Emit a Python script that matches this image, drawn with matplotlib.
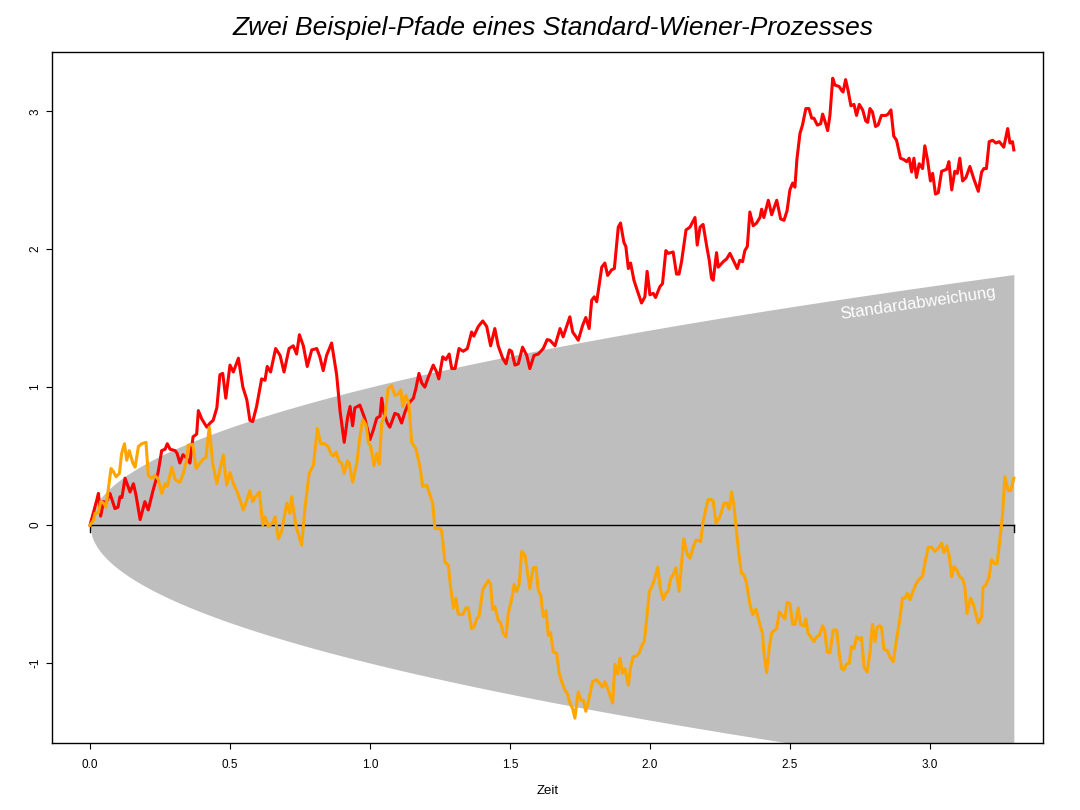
import numpy as np
import matplotlib
matplotlib.use("Agg")
import matplotlib.pyplot as plt

plt.rcParams['font.family'] = ['Liberation Sans', 'DejaVu Sans']

TITLE = "Zwei Beispiel-Pfade eines Standard-Wiener-Prozesses"
XLABEL = "Zeit"
BAND_LABEL = "Standardabweichung"
T_END = 3.3
X_TICKS = [0.0, 0.5, 1.0, 1.5, 2.0, 2.5, 3.0]
X_TICK_LABELS = ["0.0", "0.5", "1.0", "1.5", "2.0", "2.5", "3.0"]
Y_TICKS = [-1, 0, 1, 2, 3]
Y_TICK_LABELS = ["-1", "0", "1", "2", "3"]

red_t = [0, 0.012, 0.024, 0.030, 0.038, 0.048, 0.057, 0.071, 0.089, 0.100, 0.107, 0.114, 0.125, 0.143, 0.155,
         0.164, 0.179, 0.196, 0.208, 0.225, 0.243, 0.256, 0.268, 0.276, 0.286, 0.304, 0.311, 0.321, 0.332, 0.343,
         0.357, 0.368, 0.381, 0.387, 0.399, 0.417, 0.429, 0.440, 0.453, 0.464, 0.474, 0.485, 0.500, 0.512, 0.530,
         0.546, 0.560, 0.571, 0.581, 0.595, 0.613, 0.625, 0.633, 0.645, 0.663, 0.679, 0.693, 0.711, 0.726, 0.738,
         0.748, 0.762, 0.776, 0.792, 0.810, 0.821, 0.833, 0.845, 0.863, 0.881, 0.893, 0.908, 0.920, 0.929, 0.938,
         0.946, 0.964, 0.982, 1.000, 1.012, 1.024, 1.036, 1.042, 1.050, 1.062, 1.071, 1.089, 1.101, 1.113, 1.125,
         1.137, 1.155, 1.164, 1.175, 1.185, 1.196, 1.208, 1.226, 1.238, 1.246, 1.260, 1.271, 1.283, 1.292, 1.304,
         1.318, 1.333, 1.348, 1.363, 1.371, 1.387, 1.403, 1.417, 1.431, 1.446, 1.458, 1.474, 1.486, 1.498, 1.506,
         1.518, 1.530, 1.545, 1.560, 1.571, 1.586, 1.601, 1.619, 1.633, 1.643, 1.661, 1.679, 1.690, 1.714, 1.724,
         1.736, 1.744, 1.760, 1.771, 1.783, 1.792, 1.801, 1.810, 1.828, 1.839, 1.849, 1.863, 1.873, 1.887, 1.895,
         1.907, 1.914, 1.923, 1.931, 1.943, 1.955, 1.970, 1.982, 1.990, 2.000, 2.012, 2.020, 2.036, 2.045, 2.057,
         2.065, 2.083, 2.095, 2.104, 2.113, 2.129, 2.143, 2.161, 2.169, 2.179, 2.190, 2.203, 2.212, 2.220, 2.226,
         2.238, 2.244, 2.262, 2.274, 2.286, 2.298, 2.312, 2.321, 2.331, 2.339, 2.348, 2.357, 2.369, 2.381, 2.393,
         2.399, 2.407, 2.423, 2.435, 2.453, 2.467, 2.479, 2.490, 2.500, 2.510, 2.518, 2.525, 2.536, 2.545, 2.557,
         2.568, 2.578, 2.586, 2.598, 2.610, 2.617, 2.625, 2.635, 2.643, 2.653, 2.661, 2.676, 2.685, 2.690, 2.699,
         2.708, 2.718, 2.729, 2.738, 2.748, 2.760, 2.771, 2.778, 2.786, 2.795, 2.806, 2.815, 2.827, 2.843, 2.851,
         2.861, 2.871, 2.881, 2.895, 2.907, 2.917, 2.926, 2.935, 2.943, 2.952, 2.962, 2.974, 2.982, 2.992, 3.002,
         3.010, 3.020, 3.030, 3.042, 3.060, 3.068, 3.078, 3.089, 3.098, 3.107, 3.117, 3.129, 3.143, 3.157, 3.173,
         3.185, 3.193, 3.202, 3.212, 3.224, 3.236, 3.248, 3.264, 3.278, 3.286, 3.295, 3.300]
red_w = [0, 0.09, 0.18, 0.23, 0.065, 0.17, 0.16, 0.23, 0.12, 0.13, 0.205, 0.2, 0.34, 0.24, 0.3,
         0.22, 0.04, 0.17, 0.11, 0.25, 0.38, 0.54, 0.55, 0.59, 0.55, 0.54, 0.52, 0.45, 0.51, 0.49,
         0.45, 0.64, 0.66, 0.83, 0.77, 0.71, 0.74, 0.76, 0.85, 1.09, 1.10, 0.92, 1.16, 1.11, 1.21,
         1.0, 0.91, 0.76, 0.75, 0.86, 1.06, 1.05, 1.15, 1.11, 1.28, 1.23, 1.11, 1.28, 1.30, 1.24,
         1.38, 1.30, 1.15, 1.27, 1.28, 1.22, 1.12, 1.23, 1.32, 1.09, 0.83, 0.60, 0.78, 0.86, 0.72,
         0.85, 0.87, 0.77, 0.62, 0.69, 0.775, 0.79, 0.92, 0.81, 0.74, 0.71, 0.81, 0.80, 0.74, 0.82,
         0.88, 0.92, 0.99, 1.10, 1.03, 1.0, 1.07, 1.16, 1.11, 1.06, 1.22, 1.20, 1.24, 1.135, 1.135,
         1.28, 1.26, 1.28, 1.40, 1.37, 1.44, 1.48, 1.44, 1.30, 1.425, 1.30, 1.21, 1.17, 1.27, 1.26,
         1.16, 1.17, 1.29, 1.23, 1.135, 1.23, 1.24, 1.28, 1.345, 1.34, 1.30, 1.425, 1.365, 1.51, 1.40,
         1.365, 1.34, 1.45, 1.505, 1.425, 1.63, 1.655, 1.62, 1.87, 1.90, 1.81, 1.85, 1.86, 2.16, 2.19,
         2.05, 2.02, 1.86, 1.90, 1.775, 1.70, 1.61, 1.655, 1.84, 1.67, 1.68, 1.65, 1.73, 1.75, 1.99,
         1.97, 1.98, 1.82, 1.82, 1.91, 2.14, 2.16, 2.23, 2.03, 2.16, 2.18, 2.02, 1.92, 1.79, 1.775,
         1.975, 1.87, 1.91, 1.93, 1.97, 1.92, 1.86, 1.92, 1.91, 1.99, 2.02, 2.27, 2.17, 2.19, 2.23,
         2.29, 2.23, 2.355, 2.25, 2.355, 2.22, 2.21, 2.28, 2.43, 2.48, 2.45, 2.65, 2.84, 2.90, 3.02,
         3.02, 2.95, 2.95, 2.90, 2.91, 2.98, 2.93, 2.86, 2.97, 3.24, 3.19, 3.18, 3.15, 3.14, 3.23,
         3.15, 3.04, 3.05, 2.97, 3.05, 3.01, 2.93, 2.92, 3.02, 2.995, 2.89, 2.90, 2.97, 2.97, 2.98,
         3.01, 2.82, 2.79, 2.66, 2.65, 2.635, 2.66, 2.56, 2.66, 2.52, 2.62, 2.585, 2.75, 2.645, 2.495,
         2.55, 2.40, 2.41, 2.565, 2.58, 2.635, 2.43, 2.565, 2.55, 2.66, 2.495, 2.52, 2.60, 2.51, 2.42,
         2.56, 2.585, 2.585, 2.78, 2.79, 2.77, 2.78, 2.74, 2.875, 2.77, 2.78, 2.72]

orange_t = [0, 0.012, 0.018, 0.030, 0.038, 0.048, 0.057, 0.075, 0.083, 0.093, 0.105, 0.113, 0.123, 0.131, 0.140,
            0.153, 0.161, 0.173, 0.185, 0.200, 0.208, 0.220, 0.232, 0.244, 0.256, 0.268, 0.276, 0.292, 0.304, 0.321,
            0.333, 0.345, 0.351, 0.367, 0.379, 0.393, 0.405, 0.414, 0.426, 0.438, 0.453, 0.464, 0.476, 0.488, 0.500,
            0.512, 0.526, 0.548, 0.560, 0.571, 0.581, 0.589, 0.605, 0.617, 0.625, 0.637, 0.653, 0.661, 0.673, 0.685,
            0.703, 0.714, 0.720, 0.736, 0.756, 0.768, 0.783, 0.798, 0.812, 0.824, 0.838, 0.851, 0.860, 0.869, 0.879,
            0.890, 0.899, 0.908, 0.919, 0.926, 0.938, 0.953, 0.964, 0.974, 0.986, 0.994, 1.003, 1.014, 1.024, 1.033,
            1.042, 1.054, 1.065, 1.078, 1.089, 1.101, 1.110, 1.117, 1.128, 1.139, 1.149, 1.164, 1.179, 1.188, 1.203,
            1.214, 1.224, 1.232, 1.250, 1.256, 1.268, 1.280, 1.288, 1.298, 1.307, 1.315, 1.331, 1.343, 1.351, 1.363,
            1.371, 1.381, 1.390, 1.403, 1.411, 1.423, 1.431, 1.438, 1.446, 1.458, 1.467, 1.476, 1.486, 1.494, 1.506,
            1.515, 1.524, 1.533, 1.542, 1.554, 1.571, 1.583, 1.593, 1.601, 1.610, 1.619, 1.629, 1.637, 1.645, 1.655,
            1.667, 1.676, 1.685, 1.696, 1.705, 1.714, 1.724, 1.732, 1.744, 1.754, 1.762, 1.771, 1.783, 1.795, 1.810,
            1.821, 1.831, 1.839, 1.851, 1.867, 1.875, 1.885, 1.893, 1.902, 1.911, 1.923, 1.931, 1.940, 1.952, 1.962,
            1.970, 1.980, 1.988, 1.998, 2.006, 2.015, 2.028, 2.038, 2.048, 2.057, 2.065, 2.074, 2.083, 2.093, 2.104,
            2.121, 2.133, 2.143, 2.155, 2.164, 2.171, 2.181, 2.190, 2.200, 2.208, 2.220, 2.226, 2.236, 2.248, 2.256,
            2.265, 2.274, 2.283, 2.292, 2.300, 2.310, 2.319, 2.327, 2.336, 2.345, 2.357, 2.367, 2.379, 2.390, 2.402,
            2.407, 2.417, 2.426, 2.435, 2.453, 2.462, 2.474, 2.482, 2.490, 2.500, 2.510, 2.518, 2.530, 2.538, 2.550,
            2.557, 2.565, 2.578, 2.586, 2.595, 2.605, 2.617, 2.625, 2.633, 2.643, 2.655, 2.667, 2.676, 2.685, 2.693,
            2.702, 2.712, 2.720, 2.729, 2.738, 2.750, 2.756, 2.765, 2.776, 2.786, 2.795, 2.804, 2.812, 2.821, 2.827,
            2.836, 2.848, 2.857, 2.869, 2.881, 2.893, 2.902, 2.911, 2.920, 2.929, 2.940, 2.952, 2.964, 2.974, 2.982,
            2.994, 3.006, 3.018, 3.030, 3.042, 3.050, 3.060, 3.069, 3.078, 3.086, 3.097, 3.107, 3.117, 3.125, 3.133,
            3.145, 3.155, 3.164, 3.173, 3.185, 3.190, 3.200, 3.212, 3.220, 3.232, 3.240, 3.250, 3.260, 3.268, 3.280,
            3.289, 3.300]
orange_w = [0, 0.035, 0.085, 0.09, 0.17, 0.16, 0.13, 0.41, 0.39, 0.35, 0.375, 0.52, 0.59, 0.47, 0.54,
            0.45, 0.42, 0.57, 0.59, 0.60, 0.36, 0.34, 0.36, 0.33, 0.23, 0.30, 0.28, 0.42, 0.33, 0.31,
            0.375, 0.47, 0.58, 0.585, 0.41, 0.45, 0.48, 0.49, 0.71, 0.45, 0.30, 0.40, 0.51, 0.29, 0.38,
            0.30, 0.24, 0.11, 0.18, 0.25, 0.17, 0.20, 0.24, 0.00, 0.06, -0.01, 0.02, 0.06, -0.10, -0.04,
            0.16, 0.085, 0.205, -0.01, -0.145, 0.13, 0.375, 0.435, 0.70, 0.59, 0.59, 0.57, 0.52, 0.50, 0.53,
            0.46, 0.45, 0.375, 0.465, 0.45, 0.31, 0.45, 0.64, 0.765, 0.725, 0.60, 0.57, 0.43, 0.52, 0.44,
            0.74, 0.80, 0.99, 1.01, 0.94, 0.95, 0.98, 0.86, 0.94, 0.88, 0.60, 0.555, 0.42, 0.28, 0.29,
            0.22, 0.16, -0.025, -0.025, -0.04, -0.27, -0.29, -0.45, -0.60, -0.53, -0.645, -0.65, -0.60, -0.60, -0.75,
            -0.74, -0.68, -0.66, -0.465, -0.44, -0.40, -0.43, -0.61, -0.59, -0.69, -0.71, -0.785, -0.81, -0.64, -0.54,
            -0.43, -0.48, -0.43, -0.19, -0.22, -0.46, -0.31, -0.305, -0.47, -0.51, -0.665, -0.62, -0.80, -0.78, -0.92,
            -0.93, -1.075, -1.135, -1.195, -1.22, -1.29, -1.33, -1.40, -1.21, -1.27, -1.27, -1.35, -1.255, -1.135, -1.12,
            -1.15, -1.175, -1.135, -1.195, -1.29, -1.01, -1.08, -0.965, -1.075, -1.04, -1.16, -1.03, -0.955, -0.95, -0.925,
            -0.88, -0.84, -0.69, -0.48, -0.45, -0.40, -0.305, -0.47, -0.54, -0.495, -0.48, -0.39, -0.36, -0.31, -0.48,
            -0.10, -0.21, -0.24, -0.16, -0.11, -0.11, -0.12, 0.025, 0.12, 0.185, 0.185, 0.175, 0.015, 0.05, 0.10,
            0.16, 0.16, 0.115, 0.24, 0.145, -0.06, -0.23, -0.35, -0.36, -0.42, -0.57, -0.65, -0.61, -0.70, -0.785,
            -0.92, -1.07, -0.895, -0.78, -0.75, -0.63, -0.66, -0.68, -0.56, -0.57, -0.72, -0.72, -0.60, -0.72, -0.73,
            -0.68, -0.785, -0.82, -0.845, -0.81, -0.80, -0.73, -0.77, -0.92, -0.925, -0.76, -0.76, -0.93, -1.04, -1.05,
            -1.01, -1.00, -0.88, -0.895, -0.81, -0.83, -0.815, -1.03, -1.065, -0.93, -0.72, -0.845, -0.74, -0.73, -0.74,
            -0.90, -0.91, -0.955, -0.99, -0.83, -0.68, -0.53, -0.53, -0.495, -0.54, -0.48, -0.42, -0.39, -0.37, -0.28,
            -0.16, -0.16, -0.19, -0.17, -0.13, -0.20, -0.15, -0.22, -0.375, -0.30, -0.33, -0.375, -0.39, -0.45, -0.64,
            -0.53, -0.57, -0.645, -0.71, -0.665, -0.45, -0.435, -0.375, -0.25, -0.28, -0.28, -0.11, 0.085, 0.35, 0.25,
            0.25, 0.34]

fig = plt.figure(figsize=(10.8, 8.1), dpi=100)
ax = fig.add_axes([0.0481, 0.0827, 0.9176, 0.8531])

band_t = np.linspace(0, T_END, 500)
band = np.sqrt(band_t)
ax.fill_between(band_t, -band, band, color='#BEBEBE', linewidth=0, zorder=1)

ax.plot([0, T_END], [0, 0], color='black', lw=1.0, zorder=2)
ax.plot([0, 0], [0, -0.05], color='black', lw=1.0, zorder=2)
ax.plot([T_END, T_END], [0, -0.05], color='black', lw=1.0, zorder=2)

ax.plot(red_t, red_w, color='red', lw=2.2, zorder=3, solid_joinstyle='round')
ax.plot(orange_t, orange_w, color='orange', lw=2.2, zorder=4, solid_joinstyle='round')

# label along upper band edge
ang = np.degrees(np.arctan((1 / (2 * np.sqrt(2.95))) * (138 / 280)))
ax.text(2.957, 1.61, BAND_LABEL, color='white', fontsize=12, rotation=ang,
        ha='center', va='center', rotation_mode='anchor', zorder=5)

ax.set_xlim(-0.136, 3.404)
ax.set_ylim(-1.58, 3.43)
ax.set_xticks(X_TICKS)
ax.set_xticklabels(X_TICK_LABELS, fontsize=8.5)
ax.set_yticks(Y_TICKS)
ax.set_yticklabels(Y_TICK_LABELS, fontsize=8.5, rotation=90, va='center')
ax.tick_params(axis='x', direction='out', length=4.5, width=0.8, pad=7, colors='black')
ax.tick_params(axis='y', direction='out', length=4.5, width=0.8, pad=3, colors='black')
for s in ax.spines.values():
    s.set_linewidth(1.0)
    s.set_color('black')

ax.set_xlabel(XLABEL, fontsize=9.5, labelpad=10)
fig.text(0.512, 0.966, TITLE, fontsize=19, style='italic', ha='center', va='center')

fig.savefig('out.png', dpi=100)
